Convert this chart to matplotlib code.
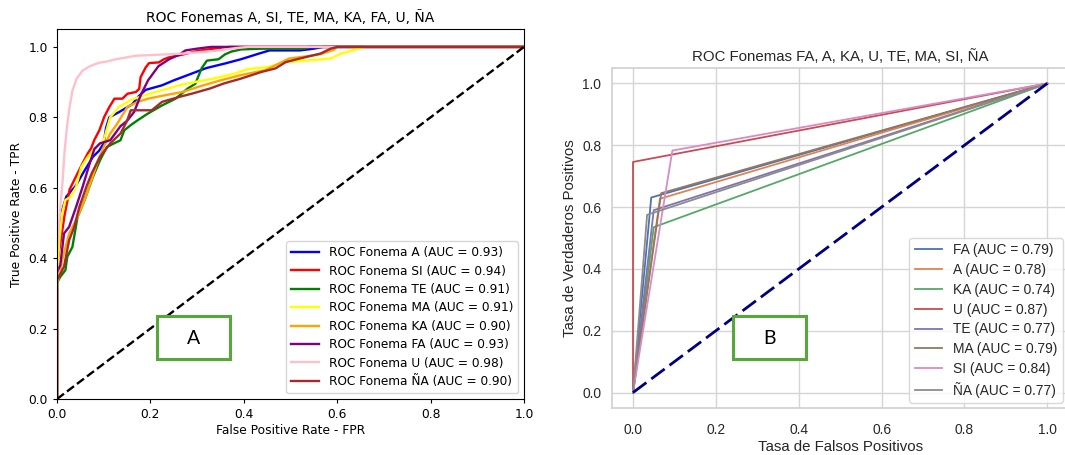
import numpy as np
import matplotlib
matplotlib.use("Agg")
import matplotlib.pyplot as plt
from matplotlib.patches import Rectangle

# ---------------- Panel A: ROC curves per phoneme (fpr, tpr) ----------------
fonemas_a = ["A", "SI", "TE", "MA", "KA", "FA", "U", "ÑA"]
auc_a = [0.93, 0.94, 0.91, 0.91, 0.90, 0.93, 0.98, 0.90]
colores_a = ["blue", "red", "green", "yellow", "orange", "purple", "pink", "brown"]

fpr_A = [0, 0, 0.005, 0.011, 0.02, 0.03, 0.04, 0.055, 0.077, 0.09, 0.1, 0.105, 0.112, 0.133,
         0.161, 0.175, 0.19, 0.225, 0.25, 0.29, 0.32, 0.36, 0.394, 0.43, 0.455, 0.52, 0.55, 0.57, 1]
tpr_A = [0, 0.40, 0.47, 0.536, 0.575, 0.59, 0.605, 0.64, 0.688, 0.705, 0.726, 0.77, 0.80, 0.815,
         0.837, 0.86, 0.878, 0.891, 0.905, 0.925, 0.94, 0.953, 0.965, 0.98, 0.99, 0.99, 0.995, 1.0, 1]

fpr_SI = [0, 0, 0.008, 0.016, 0.027, 0.041, 0.055, 0.066, 0.073, 0.08, 0.091, 0.101, 0.112, 0.123,
          0.14, 0.151, 0.169, 0.176, 0.179, 0.19, 0.197, 0.218, 0.229, 0.239, 0.268, 0.303, 0.353, 0.37, 1]
tpr_SI = [0, 0.38, 0.45, 0.52, 0.595, 0.633, 0.67, 0.698, 0.712, 0.736, 0.764, 0.801, 0.829, 0.853,
          0.853, 0.867, 0.872, 0.881, 0.914, 0.942, 0.954, 0.956, 0.965, 0.97, 0.978, 0.989, 0.998, 1.0, 1]

fpr_TE = [0, 0, 0.007, 0.018, 0.022, 0.033, 0.044, 0.059, 0.077, 0.092, 0.107, 0.122, 0.136, 0.144,
          0.158, 0.173, 0.195, 0.225, 0.254, 0.28, 0.296, 0.31, 0.321, 0.346, 0.36, 0.374, 0.395, 0.44,
          0.53, 0.54, 1]
tpr_TE = [0, 0.33, 0.347, 0.366, 0.404, 0.432, 0.517, 0.565, 0.631, 0.678, 0.716, 0.726, 0.735, 0.763,
          0.778, 0.792, 0.811, 0.834, 0.853, 0.882, 0.895, 0.94, 0.961, 0.965, 0.979, 0.987, 0.993, 0.995,
          0.995, 1.0, 1]

fpr_MA = [0, 0, 0.005, 0.011, 0.018, 0.029, 0.041, 0.052, 0.066, 0.085, 0.1, 0.114, 0.133, 0.158,
          0.188, 0.225, 0.262, 0.298, 0.335, 0.38, 0.409, 0.453, 0.49, 0.542, 0.586, 0.608, 0.623, 0.645,
          0.66, 1]
tpr_MA = [0, 0.35, 0.45, 0.527, 0.565, 0.574, 0.603, 0.659, 0.688, 0.716, 0.735, 0.80, 0.83, 0.849,
          0.863, 0.877, 0.891, 0.901, 0.91, 0.924, 0.937, 0.943, 0.957, 0.962, 0.967, 0.981, 0.986, 0.995,
          1.0, 1]

fpr_KA = [0, 0, 0.007, 0.011, 0.026, 0.044, 0.059, 0.074, 0.088, 0.1, 0.114, 0.129, 0.151, 0.173,
          0.195, 0.232, 0.269, 0.306, 0.35, 0.394, 0.446, 0.468, 0.497, 0.527, 0.564, 0.593, 0.6, 1]
tpr_KA = [0, 0.33, 0.36, 0.395, 0.47, 0.517, 0.565, 0.622, 0.678, 0.716, 0.754, 0.782, 0.83, 0.844,
          0.853, 0.863, 0.872, 0.888, 0.905, 0.92, 0.934, 0.948, 0.967, 0.972, 0.979, 0.992, 1.0, 1]

fpr_FA = [0, 0, 0.007, 0.015, 0.026, 0.041, 0.055, 0.07, 0.08, 0.092, 0.114, 0.136, 0.15, 0.165,
          0.181, 0.195, 0.217, 0.24, 0.262, 0.275, 0.3, 0.33, 1]
tpr_FA = [0, 0.36, 0.38, 0.47, 0.489, 0.546, 0.603, 0.669, 0.71, 0.726, 0.735, 0.775, 0.79, 0.815,
          0.868, 0.905, 0.945, 0.965, 0.978, 0.99, 0.995, 1.0, 1]

fpr_U = [0, 0, 0.003, 0.008, 0.012, 0.016, 0.022, 0.027, 0.033, 0.042, 0.055, 0.07, 0.09, 0.105,
         0.126, 0.17, 0.22, 0.27, 0.34, 0.385, 0.41, 1]
tpr_U = [0, 0.42, 0.47, 0.56, 0.62, 0.70, 0.78, 0.83, 0.875, 0.91, 0.933, 0.945, 0.955, 0.958,
         0.965, 0.975, 0.978, 0.981, 0.989, 0.997, 1.0, 1]

fpr_NA = [0, 0, 0.004, 0.015, 0.026, 0.037, 0.048, 0.063, 0.074, 0.092, 0.114, 0.136, 0.15, 0.158,
          0.203, 0.225, 0.262, 0.291, 0.328, 0.357, 0.394, 0.438, 0.468, 0.49, 0.52, 0.564, 0.586, 0.6, 1]
tpr_NA = [0, 0.34, 0.347, 0.376, 0.451, 0.489, 0.546, 0.603, 0.64, 0.688, 0.726, 0.754, 0.79, 0.82,
          0.82, 0.844, 0.858, 0.868, 0.882, 0.896, 0.91, 0.929, 0.939, 0.957, 0.967, 0.981, 0.995, 1.0, 1]

curvas_a = [(fpr_A, tpr_A), (fpr_SI, tpr_SI), (fpr_TE, tpr_TE), (fpr_MA, tpr_MA),
            (fpr_KA, tpr_KA), (fpr_FA, tpr_FA), (fpr_U, tpr_U), (fpr_NA, tpr_NA)]

# ---------------- Panel B: single-threshold ROC operating points ----------------
fonemas_b = ["FA", "A", "KA", "U", "TE", "MA", "SI", "ÑA"]
fpr_b = [0.044, 0.065, 0.050, 0.000, 0.050, 0.068, 0.095, 0.034]
tpr_b = [0.631, 0.627, 0.535, 0.746, 0.590, 0.645, 0.783, 0.575]
auc_b = [0.79, 0.78, 0.74, 0.87, 0.77, 0.79, 0.84, 0.77]
colores_b = ["#4c72b0", "#dd8452", "#55a868", "#c44e52", "#8172b3", "#937860", "#da8bc3", "#8c8c8c"]

ticks = [0.0, 0.2, 0.4, 0.6, 0.8, 1.0]

W, H = 1065, 455
fig = plt.figure(figsize=(W / 100, H / 100), dpi=100)

# ---- left panel (default matplotlib look) ----
ax1 = fig.add_axes([57 / W, 1 - 399 / H, (524 - 57) / W, (399 - 29.3) / H])
for (fx, ty), nombre, auc, col in zip(curvas_a, fonemas_a, auc_a, colores_a):
    ax1.plot(fx, ty, color=col, lw=1.7, label=f"ROC Fonema {nombre} (AUC = {auc:.2f})")
ax1.plot([0, 1], [0, 1], "k--", lw=1.7)
ax1.set_xlim(0.0, 1.0)
ax1.set_ylim(0.0, 1.05)
ax1.set_xticks(ticks)
ax1.set_yticks(ticks)
ax1.tick_params(labelsize=8.8, length=3)
ax1.set_xlabel("False Positive Rate - FPR", fontsize=8.8, labelpad=2)
ax1.set_ylabel("True Positive Rate - TPR", fontsize=8.8, labelpad=4)
ax1.set_title("ROC Fonemas A, SI, TE, MA, KA, FA, U, ÑA", fontsize=10, pad=5)
ax1.legend(loc="lower right", fontsize=8.7, handlelength=2.3, labelspacing=0.45)

# ---- right panel (whitegrid look) ----
gris = "#262626"
fam = ["Liberation Sans", "DejaVu Sans"]
ax2 = fig.add_axes([612.3 / W, 1 - 408 / H, (1068 - 612.3) / W, (408 - 68) / H])
ax2.set_facecolor("white")
ax2.grid(True, color="#d5d5d5", lw=1.0)
ax2.set_axisbelow(True)
for s in ax2.spines.values():
    s.set_color("#d0d0d0")
    s.set_linewidth(1.2)
for fx, ty, nombre, auc, col in zip(fpr_b, tpr_b, fonemas_b, auc_b, colores_b):
    ax2.plot([0, fx, 1], [0, ty, 1], color=col, lw=1.3, label=f"{nombre} (AUC = {auc:.2f})")
ax2.plot([0, 1], [0, 1], color="navy", lw=2, linestyle=(0, (6, 2.2)))
ax2.set_xlim(-0.05, 1.05)
ax2.set_ylim(-0.05, 1.05)
ax2.set_xticks(ticks)
ax2.set_yticks(ticks)
ax2.tick_params(axis="x", length=0, pad=11, labelsize=9.9, labelcolor=gris)
ax2.tick_params(axis="y", length=0, pad=8, labelsize=9.9, labelcolor=gris)
for lab in ax2.get_xticklabels() + ax2.get_yticklabels():
    lab.set_family(fam)
ax2.set_xlabel("Tasa de Falsos Positivos", fontsize=10.8, color=gris, family=fam, labelpad=2)
ax2.set_ylabel("Tasa de Verdaderos Positivos", fontsize=10.8, color=gris, family=fam, labelpad=4)
ax2.set_title("ROC Fonemas FA, A, KA, U, TE, MA, SI, ÑA", fontsize=10.8, color=gris, family=fam, pad=5)
leg = ax2.legend(loc="lower right", prop={"family": fam, "size": 9.9}, framealpha=0.8,
                 edgecolor="#d0d0d0", labelcolor=gris, borderaxespad=0.35, labelspacing=0.42)

# ---- panel tags ----
verde = "#56a83a"
for x0, letra in [(157, "A"), (733, "B")]:
    fig.patches.append(Rectangle((x0 / W, 1 - 359 / H), 73 / W, 43 / H, transform=fig.transFigure,
                                 facecolor="white", edgecolor=verde, lw=2.2, zorder=10))
    fig.text((x0 + 36.5) / W, 1 - 338 / H, letra, fontsize=14, family=["Lato", "DejaVu Sans"],
             ha="center", va="center", zorder=11)

fig.savefig("out.png", dpi=100)
